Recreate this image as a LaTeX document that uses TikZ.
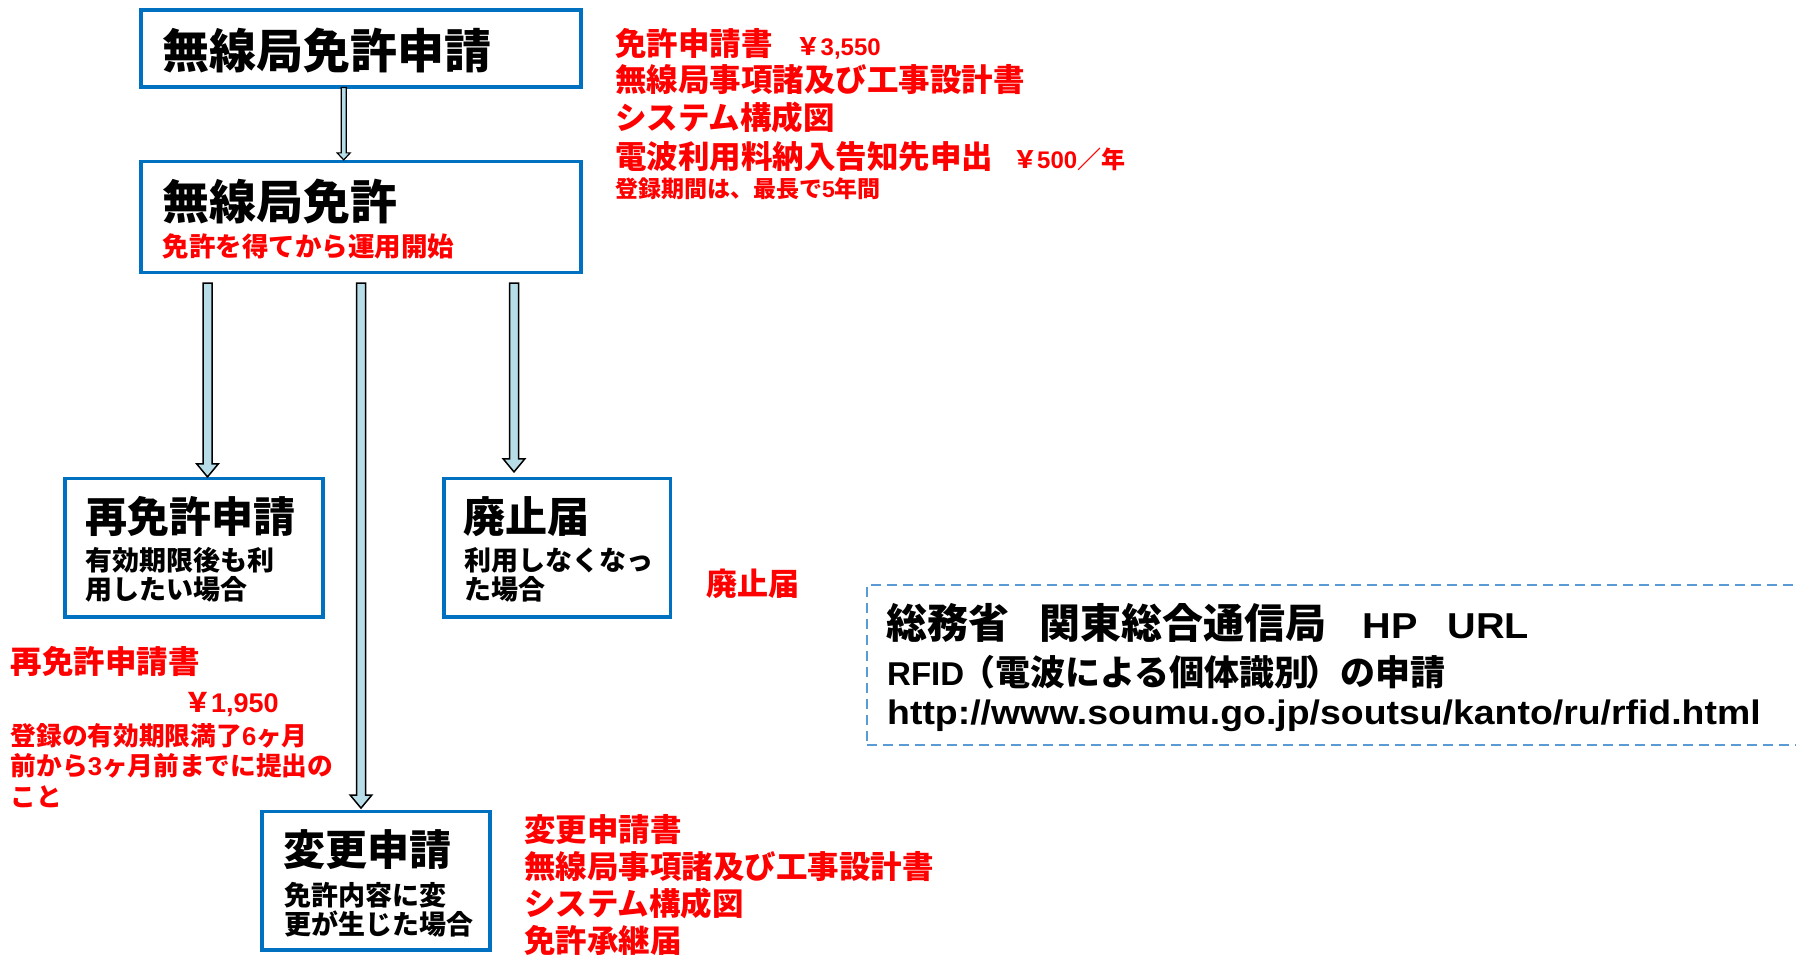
\documentclass[tikz,border=0pt]{standalone}
\usepackage{fontspec}
\setmainfont{Noto Sans CJK JP}
\newfontfamily\lat{Liberation Sans}
\newfontfamily\urlfont{Liberation Sans}[FakeStretch=1.1]
\usetikzlibrary{calc}
\definecolor{boxblue}{RGB}{0,112,192}
\definecolor{arrowfill}{RGB}{183,222,232}
\definecolor{dashblue}{RGB}{91,155,213}
\definecolor{redtxt}{RGB}{255,0,0}
\newcommand\fsz[1]{\fontsize{#1pt}{#1pt}\selectfont}
% #1 style, #2 start, #3 end, #4 half shaft, #5 half head, #6 head length
\newcommand\blockarrow[6]{%
  \draw[#1] let \p1=(#2), \p2=(#3) in
    (\x1-#4pt,\y1) -- (\x1+#4pt,\y1) -- (\x1+#4pt,\y2+#6pt) -- (\x1+#5pt,\y2+#6pt)
    -- (\x1,\y2) -- (\x1-#5pt,\y2+#6pt) -- (\x1-#4pt,\y2+#6pt) -- cycle;}
\begin{document}
\begin{tikzpicture}[x=1pt,y=1pt,
  boxstyle/.style={draw=boxblue, line width=3.2pt, inner sep=0pt, fill=white},
  dashbox/.style={draw=dashblue, line width=2.5pt, dash pattern=on 10pt off 6pt, inner sep=0pt},
  txt/.style={anchor=base west, inner sep=0pt},
  redt/.style={text=redtxt},
  arrowstyle/.style={draw=black, line width=1.5pt, fill=arrowfill, line join=miter}]
\useasboundingbox (0,0) rectangle (1796,-955);

% boxes
\node[boxstyle, minimum width=440pt, minimum height=77pt] (b1) at (361,-48.5) {};
\node[boxstyle, minimum width=440pt, minimum height=111pt] (b2) at (361,-217) {};
\node[boxstyle, minimum width=258pt, minimum height=138.5pt] (b3) at (194,-547.75) {};
\node[boxstyle, minimum width=226.7pt, minimum height=138.5pt] (b4) at (557.35,-547.75) {};
\node[boxstyle, minimum width=228pt, minimum height=138.3pt] (b5) at (376,-880.85) {};
\node[dashbox, minimum width=943pt, minimum height=160pt] (url) at (1338.5,-665) {};

% arrow axes
\coordinate (ax1) at (343.7,0);
\coordinate (ax2) at (207.5,0);
\coordinate (ax3) at (361,0);
\coordinate (ax4) at (514,0);
\coordinate (b1s) at ([yshift=1pt]b1.south);
\coordinate (b2s) at ([yshift=-9pt]b2.south);
\coordinate (b2n) at ([yshift=0pt]b2.north);
\coordinate (b3n) at ([yshift=0pt]b3.north);
\coordinate (b4n) at ([yshift=5pt]b4.north);
\coordinate (b5n) at ([yshift=2pt]b5.north);

\blockarrow{arrowstyle, line width=1.2pt}{b1s -| ax1}{b2n -| ax1}{2.5}{6.5}{7}
\blockarrow{arrowstyle}{b2s -| ax2}{b3n -| ax2}{4.5}{10.8}{13}
\blockarrow{arrowstyle}{b2s -| ax3}{b5n -| ax3}{4.5}{10.8}{13}
\blockarrow{arrowstyle}{b2s -| ax4}{b4n -| ax4}{4.5}{10.8}{13}

% box texts
\node[txt, font=\bfseries\fsz{47}] (t1) at (162,-68.4) {無線局免許申請};
\node[txt, font=\bfseries\fsz{47}] (t2) at (162,-219.4) {無線局免許};
\node[txt, redt, font=\bfseries\fsz{26.5}] (t2s) at (162.5,-256.1) {免許を得てから運用開始};

\node[txt, font=\bfseries\fsz{42}] (b3t) at (85,-532.7) {再免許申請};
\node[txt, font=\bfseries\fsz{27}] (b3s1) at (85.5,-570.3) {有効期限後も利};
\node[txt, font=\bfseries\fsz{27}] (b3s2) at (85.5,-599.8) {用したい場合};

\node[txt, font=\bfseries\fsz{42}] (b4t) at (463.5,-532.7) {廃止届};
\node[txt, font=\bfseries\fsz{27}] (b4s1) at (464,-570.3) {利用しなくなっ};
\node[txt, font=\bfseries\fsz{27}] (b4s2) at (464,-599.8) {た場合};

\node[txt, font=\bfseries\fsz{42}] (b5t) at (283.5,-865) {変更申請};
\node[txt, font=\bfseries\fsz{27}] (b5s1) at (284,-905.3) {免許内容に変};
\node[txt, font=\bfseries\fsz{27}] (b5s2) at (284,-934.3) {更が生じた場合};

% red notes, top right
\node[txt, redt, font=\bfseries\fsz{31.5}] (r1) at (615,-55.8) {免許申請書\hspace{24pt}{\fsz{24}￥{\lat 3,550}}};
\node[txt, redt, font=\bfseries\fsz{31.5}] (r2) at (615,-92) {無線局事項諸及び工事設計書};
\node[txt, redt, font=\bfseries\fsz{31.5}] (r3) at (615,-129.5) {システム構成図};
\node[txt, redt, font=\bfseries\fsz{31.5}] (r4) at (615,-168.7) {電波利用料納入告知先申出\hspace{20pt}{\fsz{24}￥{\lat 500}／年}};
\node[txt, redt, font=\bfseries\fsz{23}] (r5) at (615,-197.7) {登録期間は、最長で{\lat 5}年間};

% red note next to 廃止届
\node[txt, redt, font=\bfseries\fsz{31}] (rh) at (706,-595.8) {廃止届};

% red notes, left
\node[txt, redt, font=\bfseries\fsz{31.5}] (l1) at (10.5,-673.7) {再免許申請書};
\node[txt, redt, font=\bfseries\fsz{27}] (l2) at (184,-712.8) {￥{\lat 1,950}};
\node[txt, redt, font=\bfseries\fsz{25.7}] (l3) at (10.5,-745.6) {登録の有効期限満了{\lat 6}ヶ月};
\node[txt, redt, font=\bfseries\fsz{25.7}] (l4) at (10.5,-775.6) {前から{\lat 3}ヶ月前までに提出の};
\node[txt, redt, font=\bfseries\fsz{25.7}] (l5) at (10.5,-806.5) {こと};

% red notes, bottom
\node[txt, redt, font=\bfseries\fsz{31.5}] (m1) at (524,-841) {変更申請書};
\node[txt, redt, font=\bfseries\fsz{31.5}] (m2) at (524,-878) {無線局事項諸及び工事設計書};
\node[txt, redt, font=\bfseries\fsz{31.5}] (m3) at (524,-915) {システム構成図};
\node[txt, redt, font=\bfseries\fsz{31.5}] (m4) at (524,-952) {免許承継届};

% URL box texts
\node[txt, font=\bfseries\fsz{41}] (u1) at (886.5,-638.6) {総務省\hspace{30pt}関東総合通信局\hspace{36pt}{\urlfont\fsz{36}HP\hspace{30pt}URL}};
\node[txt, font=\bfseries\fsz{35}] (u2) at (887,-685) {{\lat\fsz{33}RFID}\hspace{-4pt}（電波による個体識別\hspace{-4pt}）の申請};
\node[txt, font=\bfseries\fsz{34}] (u3) at (887,-724.5) {\urlfont http://www.soumu.go.jp/soutsu/kanto/ru/rfid.html};
\end{tikzpicture}
\end{document}
